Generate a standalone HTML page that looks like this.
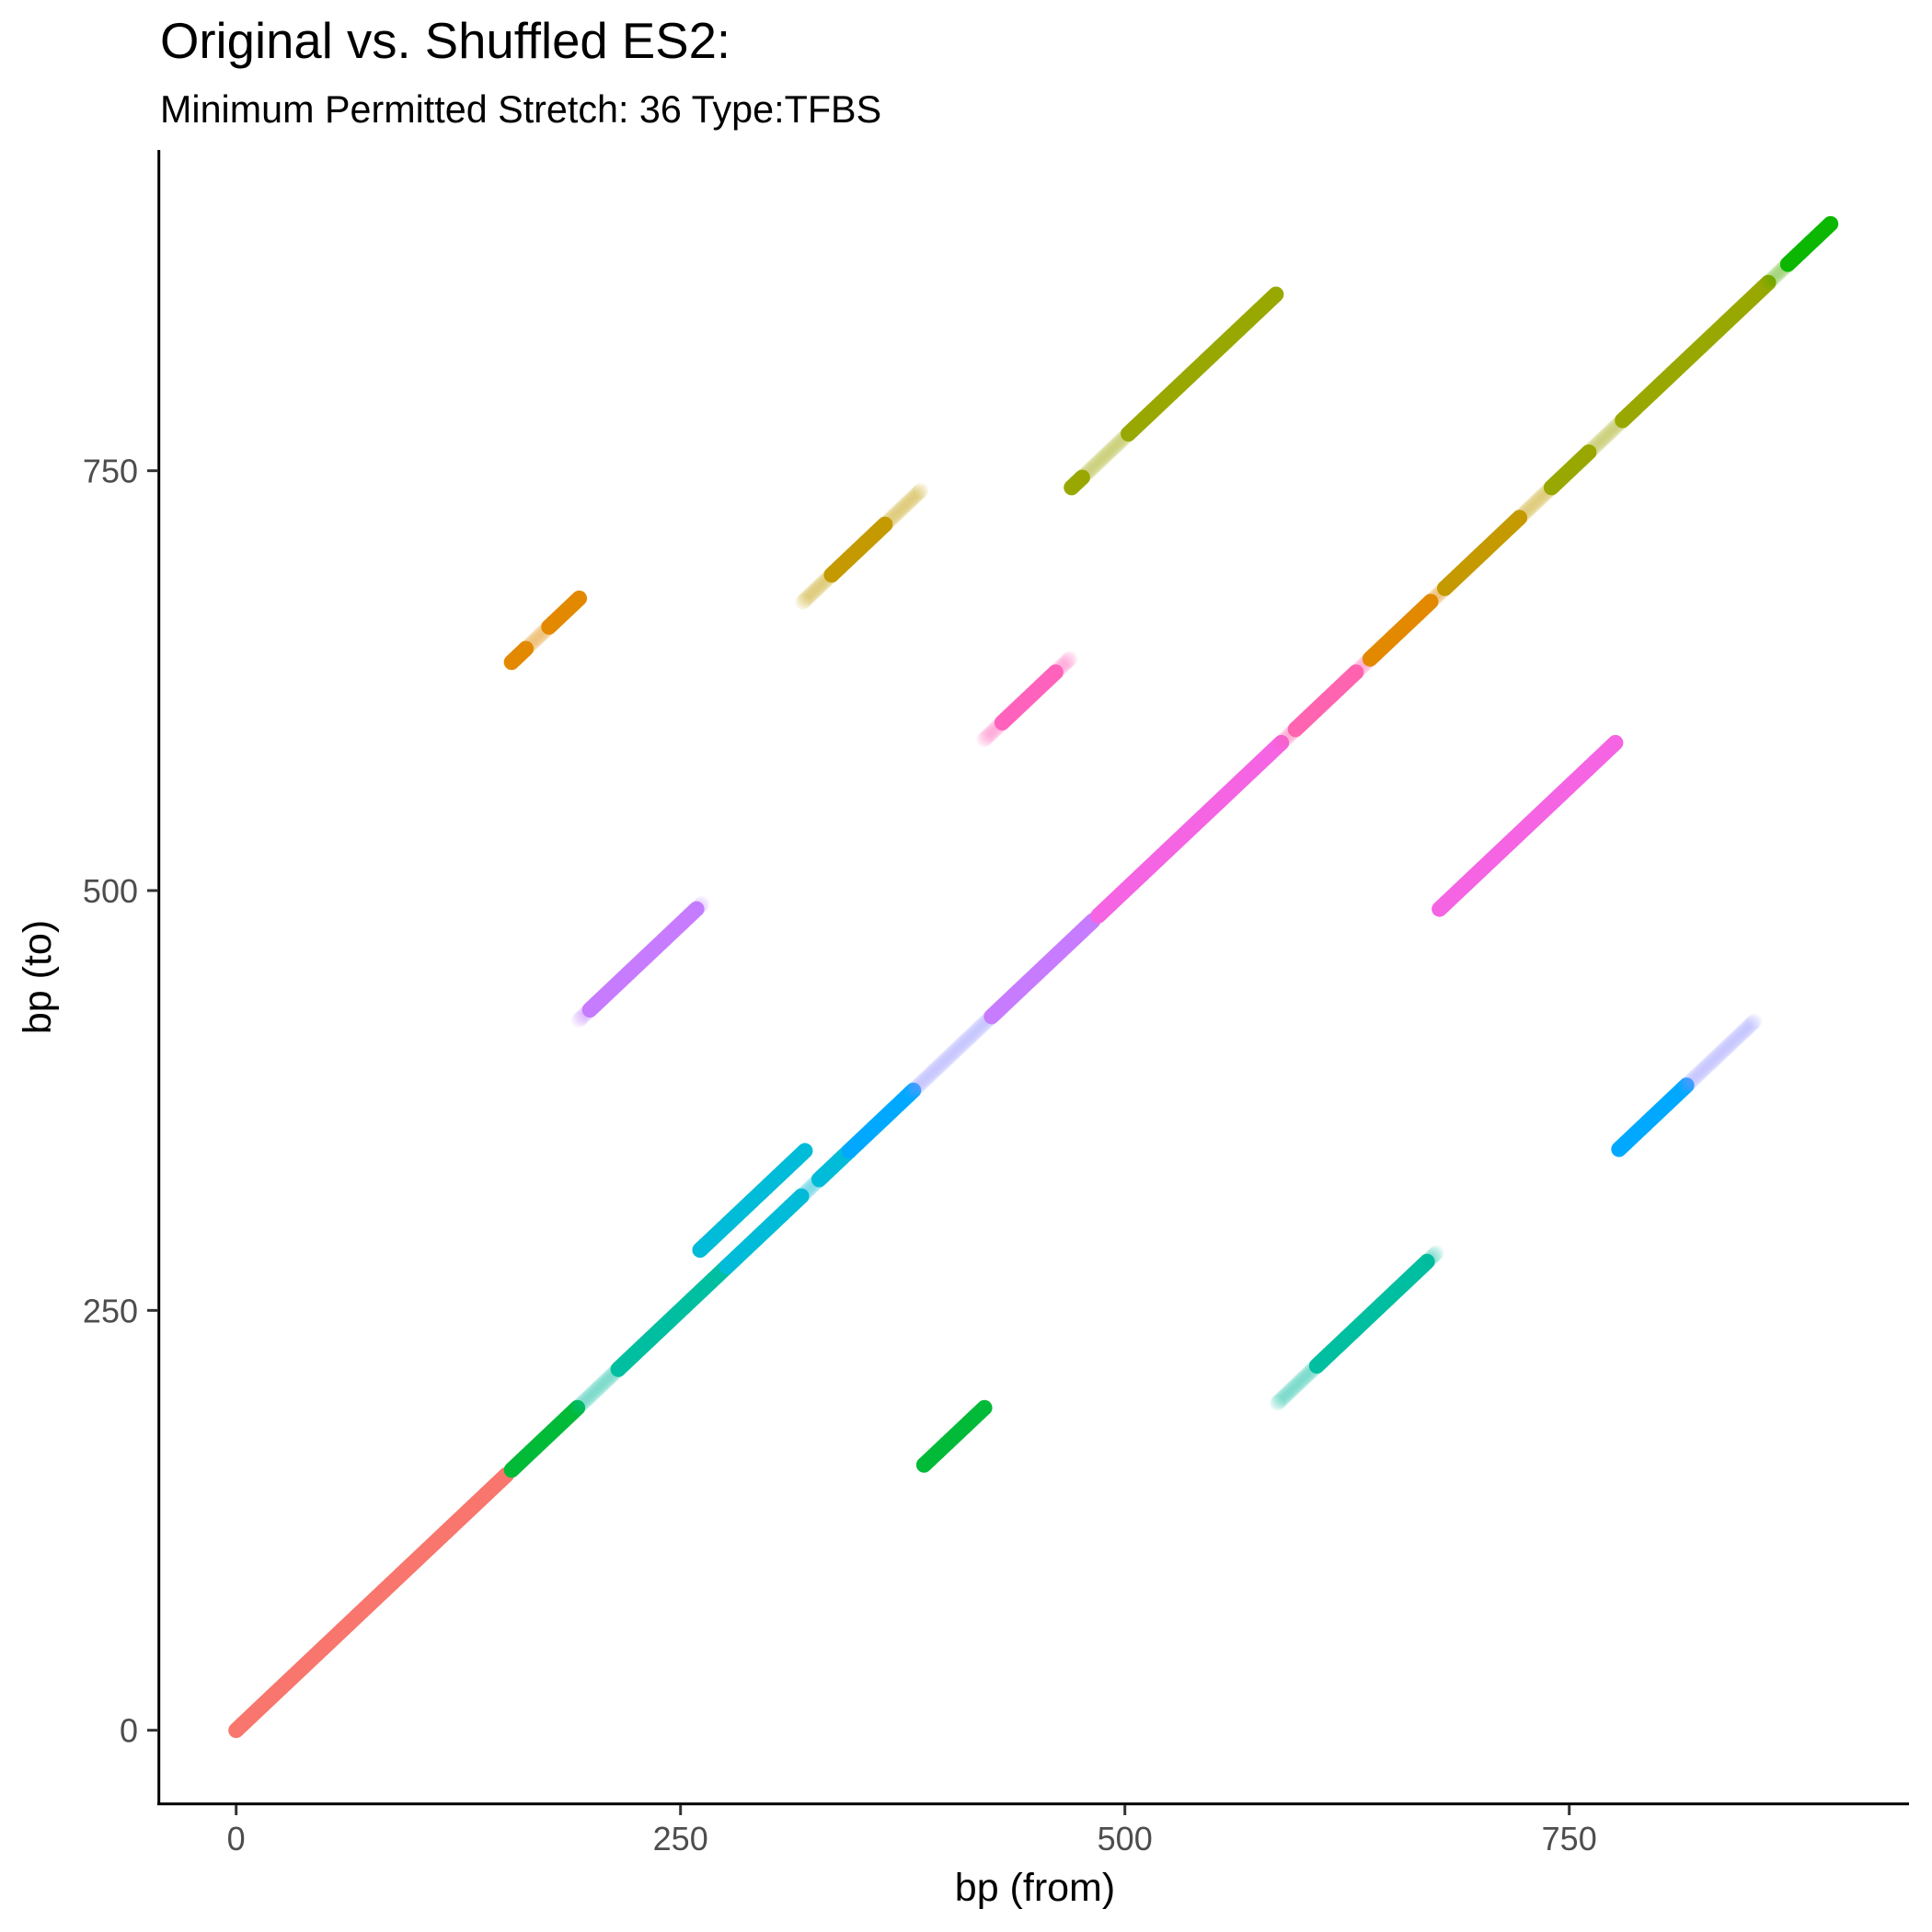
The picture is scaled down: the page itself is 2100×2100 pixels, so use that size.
<!DOCTYPE html>
<html><head><meta charset="utf-8"><style>
html,body{margin:0;padding:0;background:#fff;}
svg{display:block;font-family:"Liberation Sans",Arial,sans-serif;}
</style></head><body>
<svg id="chart" width="2100" height="2100" viewBox="0 0 2100 2100">
<text x="174" y="63" font-size="54.5" fill="#000">Original vs. Shuffled ES2:</text>
<text x="174" y="133" font-size="41.3" fill="#000">Minimum Permitted Stretch: 36 Type:TFBS</text>
<g id="marks"></g>
<line x1="172.7" y1="163" x2="172.7" y2="1962" stroke="#000" stroke-width="3"/>
<line x1="171" y1="1960.7" x2="2075" y2="1960.7" stroke="#000" stroke-width="3"/>
<g id="axes"></g>
<text x="1125" y="2066" font-size="43" text-anchor="middle" fill="#000">bp (from)</text>
<text transform="translate(55,1062) rotate(-90)" font-size="43" text-anchor="middle" fill="#000">bp (to)</text>
</svg>
<script>
// segment data: from-bp start, from-bp end, offset (to - from), colour, alpha
const pieceStart = [0,155,192,215,276,318,328,345,381,425,485,588,596,630,638,672,680,722,740,761,780,862,873,
  155,163,176, 319,335,365, 470,476,502, 421,431,461, 193,199,259, 261, 677, 778,816, 586,608,670, 387];
const pieceEnd   = [152,192,215,276,318,328,345,381,425,482,588,596,630,638,672,680,722,740,761,780,862,873,897,
  163,176,193, 335,365,385, 476,502,585, 431,461,469, 199,259,262, 320, 776, 816,854, 608,670,675, 421];
const pieceOffset= [0,0,0,0,0,0,0,0,0,0,0,0,0,0,0,0,0,0,0,0,0,0,0,
  481,481,481, 353,353,353, 270,270,270, 169,169,169, 230,230,230, 25, -188, -432,-432, -391,-391,-391, -229];
const pieceColor = ['#F8766D','#00BA38','#00BFA0','#00BFA0','#00BCD8','#00BCD8','#00BCD8','#00A9FF','#9590FF','#C77CFF','#F564E3','#FF64B0','#FF64B0','#FF64B0','#E38900','#E38900','#C49A00','#C49A00','#99A800','#99A800','#99A800','#53B400','#0CB702',
  '#E38900','#E38900','#E38900','#C49A00','#C49A00','#C49A00','#99A800','#99A800','#99A800','#FF62BC','#FF62BC','#FF62BC','#C77CFF','#C77CFF','#C77CFF','#00BCD8','#F564E3','#00A9FF','#9590FF','#00BFA0','#00BFA0','#00BFA0','#00BA38'];
const pieceAlpha = [1,1,0.1,1,1,0.1,1,1,0.1,1,1,0.1,1,0.1,1,0.1,1,0.1,1,0.1,1,0.1,1,
  1,0.1,1, 0.1,1,0.1, 1,0.1,1, 0.1,1,0.1, 0.1,1,0.1, 1, 1, 1,0.1, 0.1,1,0.1, 1];
const xTicks = [0,250,500,750];
const yTicks = [0,250,500,750];

const NS='http://www.w3.org/2000/svg';
const xs = v => 256.7 + v*1.932;
const ys = v => 1880.7 - v*1.8254;
const marks=document.getElementById('marks');
for(let i=0;i<pieceStart.length;i++){
  const g=document.createElementNS(NS,'g');
  
  
  g.setAttribute('fill',pieceColor[i]);
  g.setAttribute('fill-opacity',pieceAlpha[i]);
  for(let b=pieceStart[i]; b<=pieceEnd[i]; b++){
    const c=document.createElementNS(NS,'circle');
    c.setAttribute('cx',xs(b));
    c.setAttribute('cy',ys(b+pieceOffset[i]));
    c.setAttribute('r',8.5);
    
    
    g.appendChild(c);
  }
  marks.appendChild(g);
}
const axes=document.getElementById('axes');
xTicks.forEach(t=>{
  const l=document.createElementNS(NS,'line');
  l.setAttribute('x1',xs(t));l.setAttribute('x2',xs(t));
  l.setAttribute('y1',1962);l.setAttribute('y2',1973);
  l.setAttribute('stroke','#333');l.setAttribute('stroke-width',3);
  
  
  axes.appendChild(l);
  const tx=document.createElementNS(NS,'text');
  tx.setAttribute('x',xs(t));tx.setAttribute('y',2011);
  tx.setAttribute('font-size',36);tx.setAttribute('fill','#4D4D4D');
  tx.setAttribute('text-anchor','middle');
  tx.textContent=t;
  
  
  axes.appendChild(tx);
});
yTicks.forEach(t=>{
  const l=document.createElementNS(NS,'line');
  l.setAttribute('x1',160);l.setAttribute('x2',171);
  l.setAttribute('y1',ys(t));l.setAttribute('y2',ys(t));
  l.setAttribute('stroke','#333');l.setAttribute('stroke-width',3);
  
  
  axes.appendChild(l);
  const tx=document.createElementNS(NS,'text');
  tx.setAttribute('x',150);tx.setAttribute('y',ys(t)+13);
  tx.setAttribute('font-size',36);tx.setAttribute('fill','#4D4D4D');
  tx.setAttribute('text-anchor','end');
  tx.textContent=t;
  
  
  axes.appendChild(tx);
});
</script>
</body></html>
